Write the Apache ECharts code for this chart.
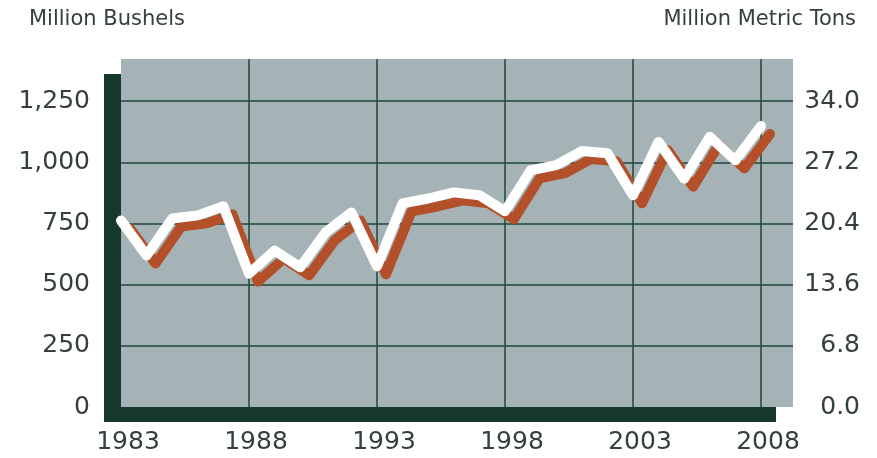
<!DOCTYPE html>
<html>
<head>
<meta charset="utf-8">
<script src="https://cdn.jsdelivr.net/npm/echarts@6/dist/echarts.min.js"></script>
<style>
html,body{margin:0;padding:0;background:#fff;}
#chart{width:877px;height:458px;}
</style>
</head>
<body>
<div id="chart"></div>
<script>
// Data
const years = [1983,1984,1985,1986,1987,1988,1989,1990,1991,1992,1993,1994,1995,1996,1997,1998,1999,2000,2001,2002,2003,2004,2005,2006,2007,2008];
const bushels = [762,619,770,783,820,545,639,571,714,795,575,832,852,877,865,800,967,988,1046,1037,865,1083,933,1104,1008,1148];
const leftTicks = [0,250,500,750,1000,1250];
const rightTicks = [0.0,6.8,13.6,20.4,27.2,34.0];
const leftTitle = 'Million Bushels';
const rightTitle = 'Million Metric Tons';

const TON_PER_BUSHEL_K = 0.0272; // 1,000 bushels = 27.2 metric tons
const yMax = 1422;
const xMax = 26.25;

const lineData = bushels.map((v, i) => [years[i] - years[0], v]);

const chart = echarts.init(document.getElementById('chart'), null, {renderer: 'canvas'});
const txtColor = '#34403c';
const fontFam = '"DejaVu Sans", sans-serif';

chart.setOption({
  animation: false,
  backgroundColor: '#ffffff',
  title: [
    {text: leftTitle, left: 24, top: 4, textStyle: {fontFamily: fontFam, fontWeight: 'normal', fontSize: 21, color: txtColor}},
    {text: rightTitle, right: 16, top: 4, textStyle: {fontFamily: fontFam, fontWeight: 'normal', fontSize: 21, color: txtColor}}
  ],
  grid: {
    left: 121, top: 59, width: 672, height: 348,
    show: true,
    backgroundColor: '#a5b3b6',
    borderWidth: 0,
    shadowColor: '#17392d',
    shadowBlur: 0,
    shadowOffsetX: -17,
    shadowOffsetY: 15
  },
  xAxis: {
    type: 'value', min: 0, max: xMax, interval: 5,
    axisLine: {show: false}, axisTick: {show: false},
    splitLine: {show: true, showMinLine: false, showMaxLine: false, lineStyle: {color: '#1f4638', width: 1.5}},
    axisLabel: {
      margin: 23, fontSize: 25, color: txtColor, fontFamily: fontFam,
      showMaxLabel: false,
      padding: [0,0,0,14],
      formatter: v => (Math.abs(v % 5) < 1e-6 ? String(years[0] + v) : '')
    }
  },
  yAxis: [
    {
      type: 'value', min: 0, max: yMax, interval: 250, position: 'left',
      axisLine: {show: false}, axisTick: {show: false},
      splitLine: {show: true, showMinLine: false, showMaxLine: false, lineStyle: {color: '#1f4638', width: 1.5}},
      axisLabel: {
        margin: 31, fontSize: 25, color: txtColor, fontFamily: fontFam,
        formatter: v => (leftTicks.indexOf(v) >= 0 ? v.toLocaleString('en-US') : '')
      }
    },
    {
      type: 'value', min: 0, max: yMax * TON_PER_BUSHEL_K, interval: 6.8, position: 'right',
      axisLine: {show: false}, axisTick: {show: false}, splitLine: {show: false},
      axisLabel: {
        margin: 67, align: 'right', fontSize: 25, color: txtColor, fontFamily: fontFam,
        formatter: v => {
          const m = rightTicks.find(t => Math.abs(t - v) < 1e-6);
          return m === undefined ? '' : m.toFixed(1);
        }
      }
    }
  ],
  series: [
    {
      type: 'line',
      data: lineData,
      yAxisIndex: 0,
      symbol: 'none',
      clip: false,
      lineStyle: {
        color: '#ffffff', width: 10, cap: 'round', join: 'round',
        shadowColor: '#b3502a', shadowBlur: 0, shadowOffsetX: 9, shadowOffsetY: 8
      }
    }
  ]
});
</script>
</body>
</html>
